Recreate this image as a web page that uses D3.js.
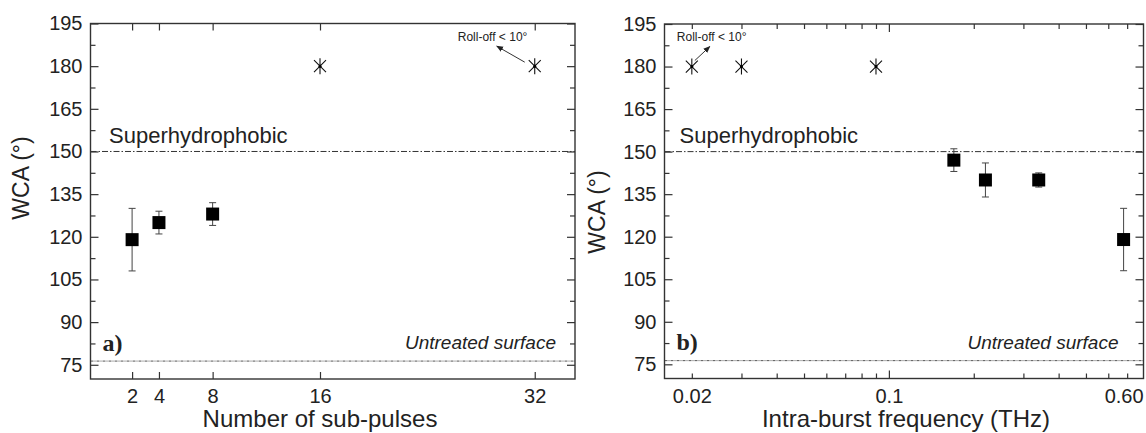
<!DOCTYPE html>
<html>
<head>
<meta charset="utf-8">
<script src="https://cdn.jsdelivr.net/npm/d3@7"></script>
<style>
  body { margin: 0; background: #fff; }
  text { font-family: "Liberation Sans", Arial, sans-serif; fill: #222; }
</style>
</head>
<body>
<div id="chart"></div>
<script>
// panel a) : number of sub-pulses
var pulses = [2, 4, 8];
var wcaPulses = [119, 125, 128];
var errPulses = [11, 4, 4];
var starPulses = [16, 32];
var starWcaPulses = [180, 180];
var xTicksA = [2, 4, 8, 16, 32];

// panel b) : intra-burst frequency (THz)
var freqs = [0.17, 0.22, 0.34, 0.68];
var wcaFreqs = [147, 140, 140, 119];
var errFreqs = [4, 6, 2.5, 11];
var starFreqs = [0.02, 0.03, 0.09];
var starWcaFreqs = [180, 180, 180];
var xTicksB = [0.02, 0.1, 0.68];
var xTickLabelsB = ["0.02", "0.1", "0.60"];
var xMinorB = [0.02, 0.03, 0.04, 0.05, 0.06, 0.07, 0.08, 0.09, 0.2, 0.3, 0.4, 0.5, 0.6, 0.7];

// shared
var yTicks = [75, 90, 105, 120, 135, 150, 165, 180, 195];
var yMinor = [82.5, 97.5, 112.5, 127.5, 142.5, 157.5, 172.5, 187.5];
var superLine = 150;
var untreatedLine = 76.3;

var svg = d3.select("#chart").append("svg")
    .attr("width", 1146)
    .attr("height", 433);

// arrow marker for the roll-off notes
svg.append("defs").append("marker")
    .attr("id", "arrow")
    .attr("viewBox", "0 0 10 10")
    .attr("refX", 9).attr("refY", 5)
    .attr("markerWidth", 7).attr("markerHeight", 7)
    .attr("orient", "auto")
  .append("path")
    .attr("d", "M0,1 L10,5 L0,9 z")
    .attr("fill", "#222");

// star marker: vertical stroke crossed by an X
var starSymbol = {
    draw: function(context, size) {
        var r = Math.sqrt(size) / 2, t = r * 0.75;
        context.moveTo(0, -r); context.lineTo(0, r);
        context.moveTo(-t, -t); context.lineTo(t, t);
        context.moveTo(-t, t); context.lineTo(t, -t);
    }
};

function drawPanel(o) {
    var width = o.right - o.left,
        height = o.bottom - o.top;

    var g = svg.append("g")
        .attr("transform", "translate(" + o.left + "," + o.top + ")");

    var x = o.x.range([0, width]);
    var y = d3.scaleLinear().domain([70, 195]).range([height, 0]);

    // reference lines
    g.append("line")
        .attr("x1", 0).attr("x2", width)
        .attr("y1", y(superLine)).attr("y2", y(superLine))
        .attr("stroke", "#333").attr("stroke-width", 1)
        .attr("stroke-dasharray", "6,2,1.5,2");
    g.append("line")
        .attr("x1", 0).attr("x2", width)
        .attr("y1", y(untreatedLine)).attr("y2", y(untreatedLine))
        .attr("stroke", "#555").attr("stroke-width", 1)
        .attr("stroke-dasharray", "3,1,1,1");

    // y axes, ticks inside
    var yl = g.append("g")
        .call(d3.axisLeft(y).tickValues(yTicks).tickSize(-8).tickPadding(8));
    yl.selectAll("text").style("font-size", "20px");
    g.append("g")
        .call(d3.axisLeft(y).tickValues(yMinor).tickSize(-5).tickFormat(""));
    g.append("g")
        .attr("transform", "translate(" + width + ",0)")
        .call(d3.axisRight(y).tickValues(yTicks).tickSize(-8).tickFormat(""));
    g.append("g")
        .attr("transform", "translate(" + width + ",0)")
        .call(d3.axisRight(y).tickValues(yMinor).tickSize(-5).tickFormat(""));

    // x axes
    var xb = g.append("g")
        .attr("transform", "translate(0," + height + ")")
        .call(d3.axisBottom(x).tickValues(o.xTicks).tickSize(o.xTickLen)
            .tickPadding(10 - o.xTickLen).tickFormat(function(d, i) { return o.xLabels[i]; }));
    xb.selectAll("text").style("font-size", "20px");
    xb.selectAll(".tick line").attr("y2", -o.xTickLen);
    if (o.xMinor) {
        g.append("g")
            .attr("transform", "translate(0," + height + ")")
            .call(d3.axisBottom(x).tickValues(o.xMinor).tickSize(-5).tickFormat(""));
        g.append("g")
            .call(d3.axisTop(x).tickValues(o.xMinor).tickSize(-5).tickFormat(""));
        g.append("g")
            .attr("transform", "translate(0," + height + ")")
            .call(d3.axisBottom(x).tickValues(o.xMajor).tickSize(-8).tickFormat(""));
        g.append("g")
            .call(d3.axisTop(x).tickValues(o.xMajor).tickSize(-8).tickFormat(""));
    } else {
        g.append("g")
            .call(d3.axisTop(x).tickValues(o.xTicks).tickSize(-7).tickFormat(""));
    }

    g.selectAll(".domain").remove();
    g.selectAll(".tick line").attr("stroke", "#333").attr("stroke-width", 1.2);

    // frame
    g.append("rect")
        .attr("width", width).attr("height", height)
        .attr("fill", "none").attr("stroke", "#333").attr("stroke-width", 1.4);

    // error bars
    var pts = o.xs.map(function(d, i) { return {x: d, y: o.ys[i], e: o.errs[i]}; });
    var eb = g.selectAll(".err").data(pts).enter().append("g")
        .attr("stroke", "#444").attr("stroke-width", 1);
    eb.append("line")
        .attr("x1", function(d) { return x(d.x); }).attr("x2", function(d) { return x(d.x); })
        .attr("y1", function(d) { return y(d.y + d.e); }).attr("y2", function(d) { return y(d.y - d.e); });
    eb.append("line")
        .attr("x1", function(d) { return x(d.x) - 3.5; }).attr("x2", function(d) { return x(d.x) + 3.5; })
        .attr("y1", function(d) { return y(d.y + d.e); }).attr("y2", function(d) { return y(d.y + d.e); });
    eb.append("line")
        .attr("x1", function(d) { return x(d.x) - 3.5; }).attr("x2", function(d) { return x(d.x) + 3.5; })
        .attr("y1", function(d) { return y(d.y - d.e); }).attr("y2", function(d) { return y(d.y - d.e); });

    // squares
    g.selectAll(".sq").data(pts).enter().append("path")
        .attr("d", d3.symbol().type(d3.symbolSquare).size(169))
        .attr("transform", function(d) { return "translate(" + x(d.x) + "," + y(d.y) + ")"; })
        .attr("fill", "#000");

    // stars (roll-off < 10 deg)
    var stars = o.starXs.map(function(d, i) { return {x: d, y: o.starYs[i]}; });
    g.selectAll(".star").data(stars).enter().append("path")
        .attr("d", d3.symbol().type(starSymbol).size(256))
        .attr("transform", function(d) { return "translate(" + x(d.x) + "," + y(d.y) + ")"; })
        .attr("fill", "none").attr("stroke", "#111").attr("stroke-width", 1.1);
    g.selectAll(".stardot").data(stars).enter().append("circle")
        .attr("cx", function(d) { return x(d.x); }).attr("cy", function(d) { return y(d.y); })
        .attr("r", 1.5).attr("fill", "#000");

    // roll-off note
    var s = stars[o.noteStar];
    var sx = x(s.x), sy = y(s.y);
    g.append("line")
        .attr("x1", sx + o.arrow[0]).attr("y1", sy + o.arrow[1])
        .attr("x2", sx + o.arrow[2]).attr("y2", sy + o.arrow[3])
        .attr("stroke", "#333").attr("stroke-width", 1)
        .attr("marker-end", "url(#arrow)");
    g.append("text")
        .attr("x", sx + o.noteDx).attr("y", y(189))
        .style("font-size", "12px")
        .text("Roll-off < 10°");

    // labels inside the plot
    g.append("text")
        .attr("x", o.superDx).attr("y", y(153))
        .style("font-size", "22px")
        .text("Superhydrophobic");
    g.append("text")
        .attr("x", width - o.untreatedDx).attr("y", y(80.5))
        .attr("text-anchor", "end")
        .style("font-size", "19px").style("font-style", "italic")
        .text("Untreated surface");
    g.append("text")
        .attr("x", o.panelDx).attr("y", y(80))
        .style("font-family", "'Liberation Serif', 'Times New Roman', serif")
        .style("font-weight", "bold").style("font-size", "24px")
        .text(o.panel);

    // axis titles
    svg.append("text")
        .attr("x", o.xTitleX).attr("y", 427)
        .attr("text-anchor", "middle")
        .style("font-size", "24px")
        .text(o.xTitle);
    svg.append("text")
        .attr("transform", "translate(" + o.yTitleX + "," + o.yTitleY + ") rotate(-90)")
        .attr("text-anchor", "middle")
        .style("font-size", "23px")
        .text("WCA (°)");
}

drawPanel({
    left: 90.5, right: 575, top: 23.5, bottom: 379,
    x: d3.scaleLinear().domain([-1.1, 35]),
    xTicks: xTicksA, xLabels: xTicksA.map(String), xTickLen: 7,
    xs: pulses, ys: wcaPulses, errs: errPulses,
    starXs: starPulses, starYs: starWcaPulses,
    noteStar: 1, arrow: [-10, -4, -38, -20], noteDx: -77,
    superDx: 18.5, untreatedDx: 19, panelDx: 12, panel: "a)",
    xTitle: "Number of sub-pulses", xTitleX: 320,
    yTitleX: 29, yTitleY: 178
});

drawPanel({
    left: 664.5, right: 1143.5, top: 24, bottom: 378.5,
    x: d3.scaleLog().domain([0.016, 0.8]),
    xTicks: xTicksB, xLabels: xTickLabelsB, xTickLen: 0,
    xMinor: xMinorB, xMajor: [0.1],
    xs: freqs, ys: wcaFreqs, errs: errFreqs,
    starXs: starFreqs, starYs: starWcaFreqs,
    noteStar: 0, arrow: [3, -6, 18, -20], noteDx: -15,
    superDx: 15, untreatedDx: 25, panelDx: 12, panel: "b)",
    xTitle: "Intra-burst frequency (THz)", xTitleX: 906,
    yTitleX: 605, yTitleY: 212
});
</script>
</body>
</html>
